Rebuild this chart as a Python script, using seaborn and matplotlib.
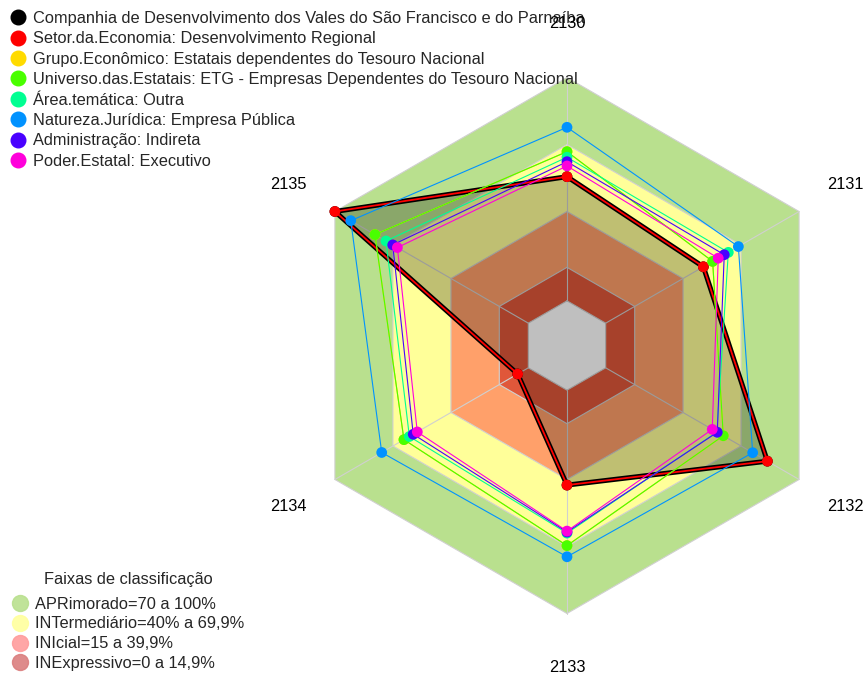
import numpy as np
import pandas as pd
import matplotlib
matplotlib.use('Agg')
import matplotlib.pyplot as plt
from matplotlib.lines import Line2D
import seaborn as sns

# ---- dados ----
eixos = ['2130', '2131', '2132', '2133', '2134', '2135']

nomes = [
    'Companhia de Desenvolvimento dos Vales do São Francisco e do Parnaíba',
    'Setor.da.Economia: Desenvolvimento Regional',
    'Grupo.Econômico: Estatais dependentes do Tesouro Nacional',
    'Universo.das.Estatais: ETG - Empresas Dependentes do Tesouro Nacional',
    'Área.temática: Outra',
    'Natureza.Jurídica: Empresa Pública',
    'Administração: Indireta',
    'Poder.Estatal: Executivo',
]
cores = ['#000000', '#FF0000', '#FFDB00', '#49FF00',
         '#00FF92', '#0092FF', '#4900FF', '#FF00DB']

companhia = [55.6, 50.5, 83.6, 42.5, 5.5, 100.0]
setor = [55.6, 50.5, 83.6, 42.5, 5.5, 100.0]
grupo = [66.8, 55.3, 60.8, 69.6, 64.3, 79.3]
universo = [66.8, 55.3, 60.8, 69.6, 64.3, 79.3]
area = [64.3, 63.4, 57.5, 64.0, 61.5, 73.6]
natureza = [77.7, 68.6, 76.0, 74.6, 75.8, 91.8]
administracao = [62.3, 61.3, 57.7, 63.5, 59.5, 70.1]
poder = [60.4, 58.2, 55.1, 63.1, 57.4, 67.7]
valores = [companhia, setor, grupo, universo, area, natureza, administracao, poder]

faixas_nomes = ['APRimorado=70 a 100%', 'INTermediário=40% a 69,9%',
                'INIcial=15 a 39,9%', 'INExpressivo=0 a 14,9%']
faixas_limites = [100, 70, 40, 15]
faixas_cores = ['#B9E08E', '#FFFF99', '#FFA06A', '#E0573A']
faixas_legenda = ['#B9E08E', '#FFFF9E', '#FF9C9C', '#DB7F7F']

# ---- geometria do radar ----
n = len(eixos)
ang = np.deg2rad(90 - 60 * np.arange(n))
seg = 5
r0 = 1 / (seg + 1)


def raio(v):
    return r0 + np.asarray(v, dtype=float) / 100 * (1 - r0)


def poligono(r):
    r = np.broadcast_to(r, (n,))
    x = r * np.cos(ang)
    y = r * np.sin(ang)
    return np.append(x, x[0]), np.append(y, y[0])


sns.set_theme(style='white')
plt.rcParams['font.family'] = ['Liberation Sans', 'DejaVu Sans']
fs = 11.8

fig = plt.figure(figsize=(8.67, 6.8), dpi=100)
ax = fig.add_axes([0, 0, 1, 1])
escala = 268.0
cx, cy = 567.0, 345.5
ax.set_xlim(-cx / escala, (867 - cx) / escala)
ax.set_ylim(-(680 - cy) / escala, cy / escala)
ax.axis('off')

# faixas de classificacao
for lim, cor in zip(faixas_limites, faixas_cores):
    x, y = poligono(raio(lim))
    ax.fill(x, y, color=cor, lw=0, zorder=1)
    ax.plot(x, y, color='#D0D0D0', lw=0.8, zorder=1.5)
x, y = poligono(raio(0))
ax.fill(x, y, color='white', lw=0, zorder=1)
ax.plot(x, y, color='#D0D0D0', lw=0.8, zorder=1.5)
for a in ang:
    ax.plot([r0 * np.cos(a), np.cos(a)], [r0 * np.sin(a), np.sin(a)],
            color='#D0D0D0', lw=0.8, zorder=1.5)

# series
linhas = []
for nome, vals in zip(nomes, valores):
    x, y = poligono(raio(vals))
    linhas.append(pd.DataFrame({'serie': nome, 'ordem': np.arange(n + 1), 'x': x, 'y': y}))
df = pd.concat(linhas, ignore_index=True)

xc, yc = poligono(raio(companhia))
ax.fill(xc, yc, color='black', alpha=0.25, lw=0, zorder=2)

larguras = [3.6, 1.3] + [0.8] * 6
for i, (nome, cor) in enumerate(zip(nomes, cores)):
    d = df[df['serie'] == nome]
    sns.lineplot(data=d, x='x', y='y', sort=False, estimator=None, color=cor,
                 lw=larguras[i], ax=ax, zorder=3 + i, legend=False)
    sns.scatterplot(data=d.iloc[:-1], x='x', y='y', color=cor, s=60,
                    edgecolor='none', ax=ax, zorder=3 + i, legend=False)

# rotulos dos eixos
for nome, a in zip(eixos, ang):
    ax.text(1.2 * np.cos(a), 1.2 * np.sin(a), nome, ha='center', va='center',
            fontsize=fs, color='black', zorder=20)

# legendas
h1 = [Line2D([], [], ls='', marker='o', markersize=10.5, color=c) for c in cores]
leg1 = ax.legend(h1, nomes, loc='upper left', bbox_to_anchor=(10 / 867, 1 - 11 / 680),
                 bbox_transform=fig.transFigure, frameon=False, fontsize=fs,
                 borderpad=0, borderaxespad=0, handlelength=1.0, handletextpad=0.42,
                 labelspacing=0.33)
ax.add_artist(leg1)

h2 = [Line2D([], [], ls='', marker='o', markersize=11.5, markerfacecolor=c,
             markeredgecolor=c, alpha=0.9) for c in faixas_legenda]
leg2 = ax.legend(h2, faixas_nomes, loc='lower left', bbox_to_anchor=(12 / 867, 9 / 680),
                 bbox_transform=fig.transFigure, frameon=False, fontsize=fs,
                 title='Faixas de classificação', title_fontsize=fs,
                 borderpad=0, borderaxespad=0, handlelength=1.0, handletextpad=0.42,
                 labelspacing=0.29)
leg2._legend_box.sep = 7  # espaco extra entre titulo e itens
leg2.set_zorder(25)

fig.savefig('out.png', dpi=100)
